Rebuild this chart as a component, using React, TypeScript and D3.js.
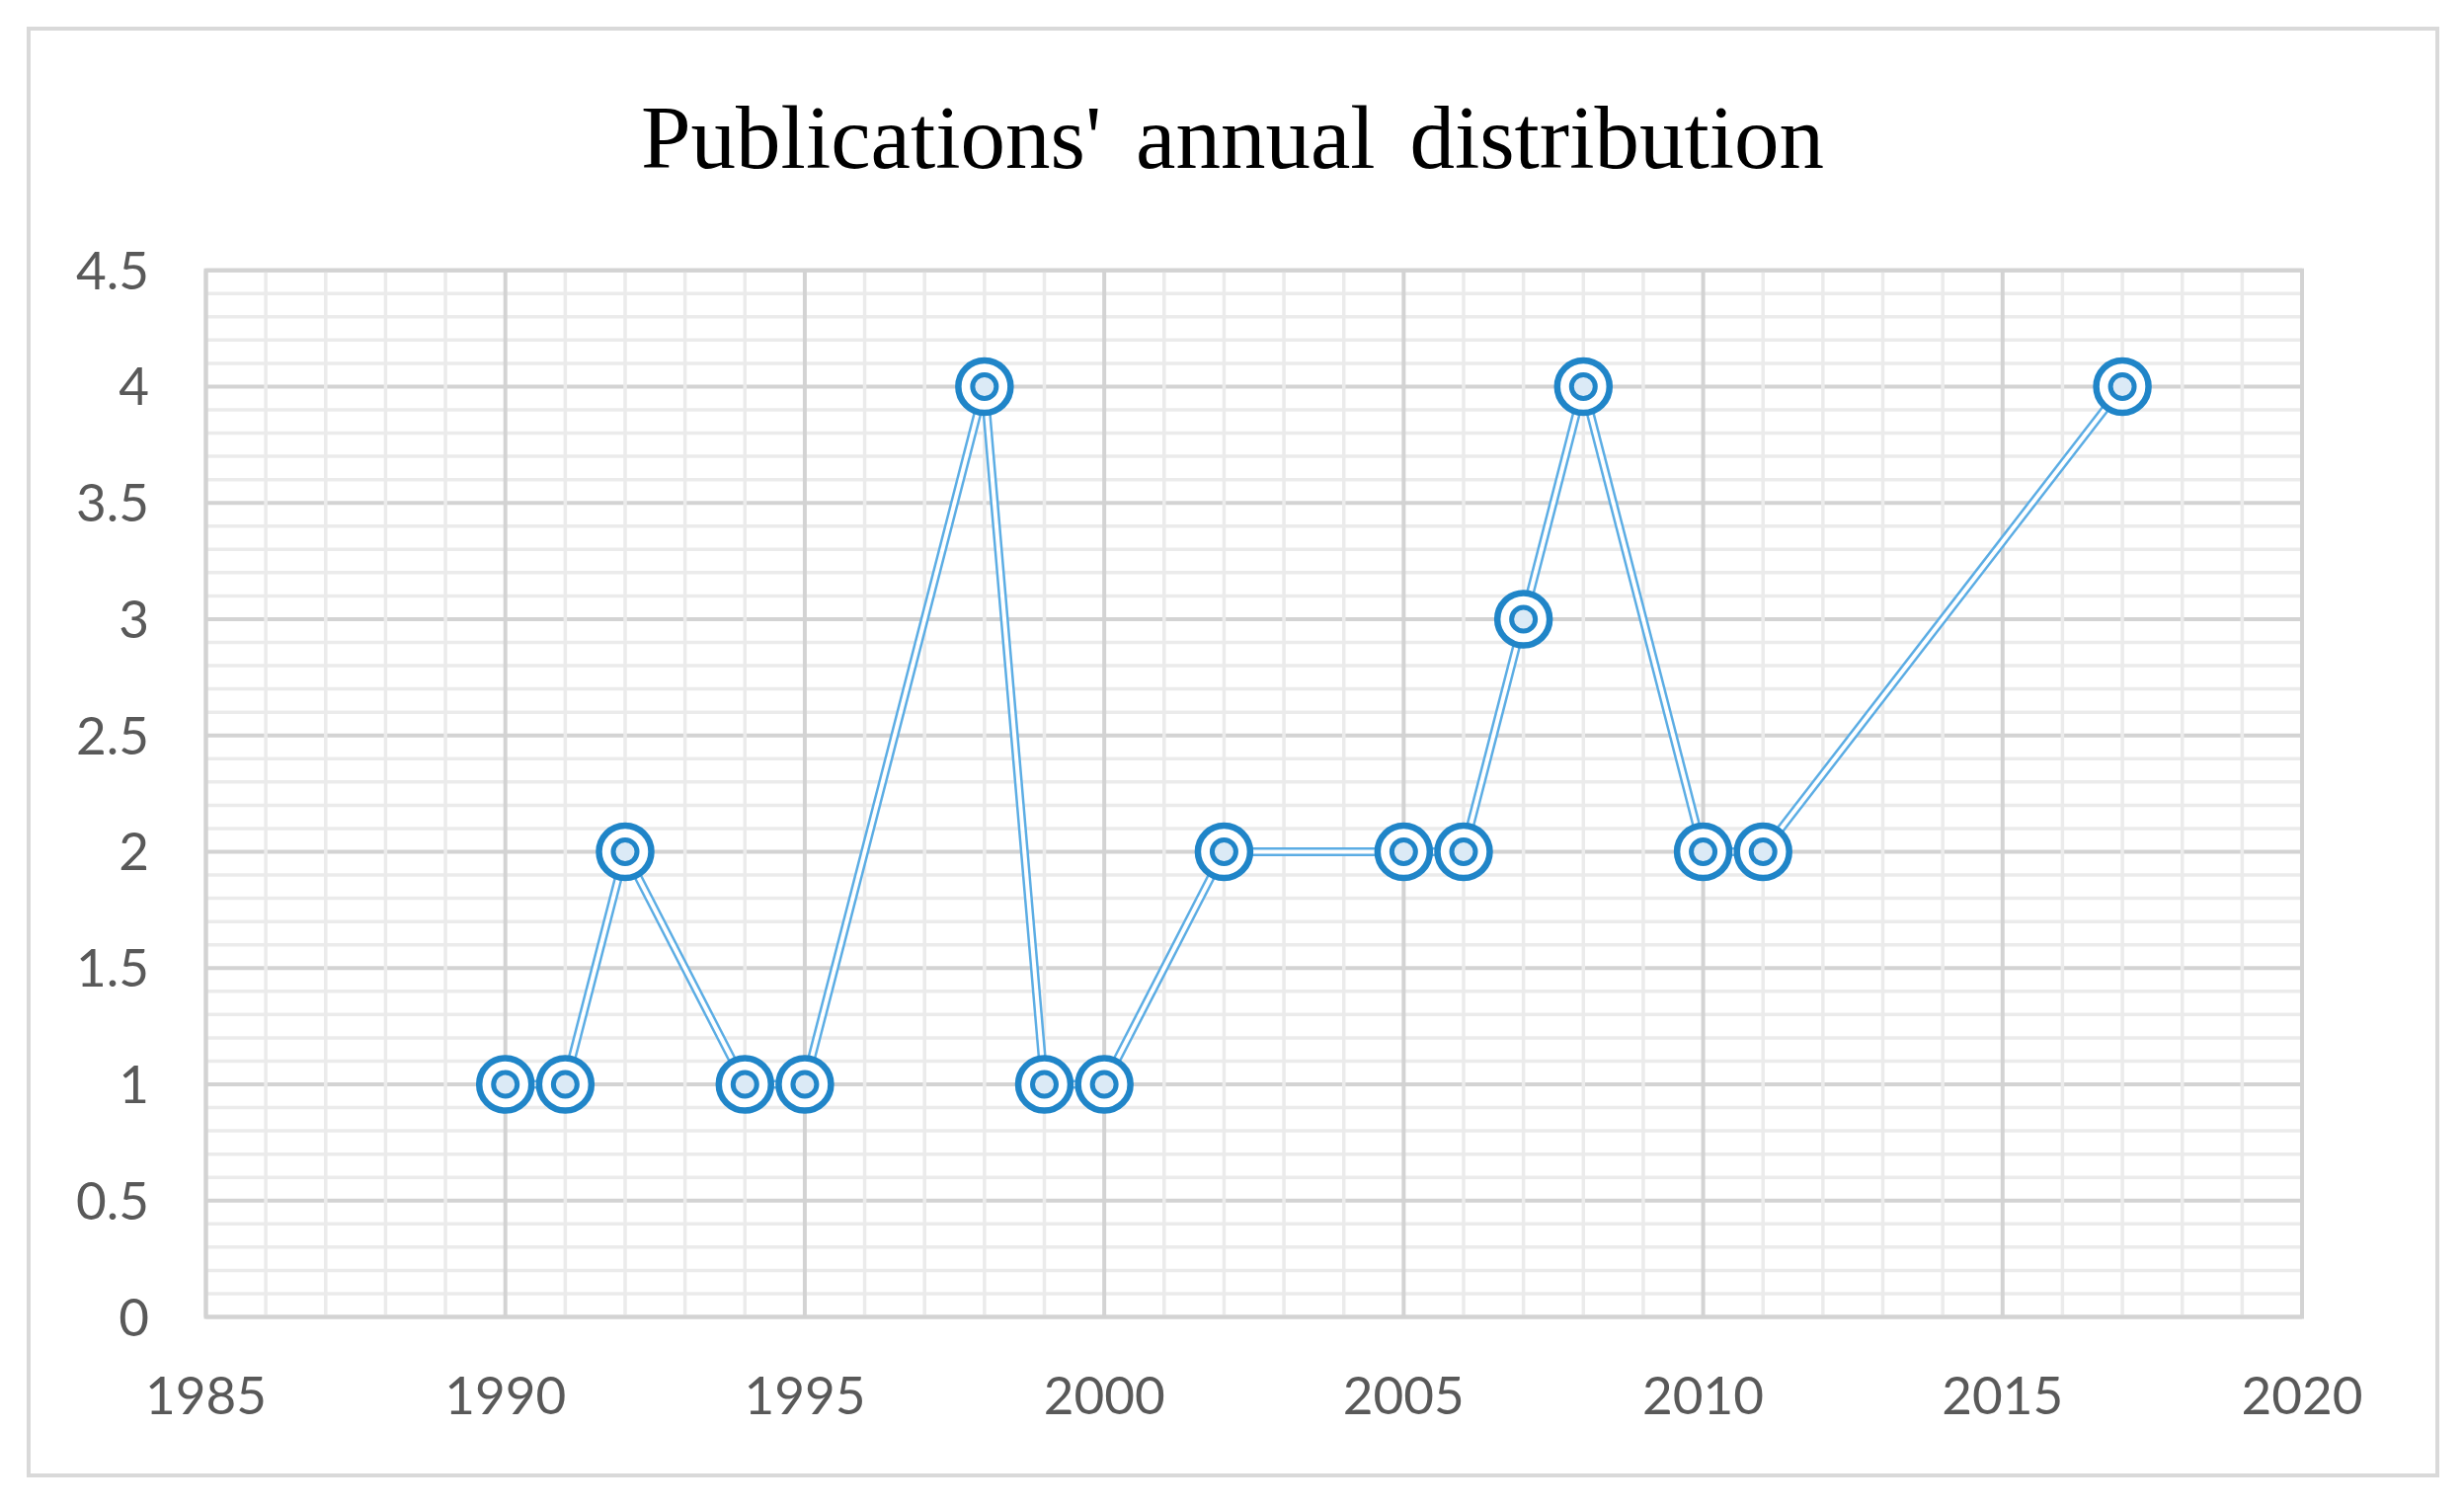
import React from "react";
import * as d3 from "d3";

const years = [1990, 1991, 1992, 1994, 1995, 1998, 1999, 2000, 2002, 2005, 2006, 2007, 2008, 2010, 2011, 2017];
const counts = [1, 1, 2, 1, 1, 4, 1, 1, 2, 2, 2, 3, 4, 2, 2, 4];
const xTicks = [1985, 1990, 1995, 2000, 2005, 2010, 2015, 2020];
const yTicks = [0, 0.5, 1, 1.5, 2, 2.5, 3, 3.5, 4, 4.5];
const title = "Publications' annual distribution";

const W = 2495;
const H = 1528;
const plot = { left: 208.5, right: 2331, top: 273.7, bottom: 1333.5 };

export default function App() {
  const x = d3.scaleLinear().domain([1985, 2020]).range([plot.left, plot.right]);
  const y = d3.scaleLinear().domain([0, 4.5]).range([plot.bottom, plot.top]);

  const xMinor = d3.range(1986, 2020, 1).filter((v) => v % 5 !== 0);
  const yMinor = d3.range(1, 45).map((v) => v / 10).filter((v) => Math.round(v * 10) % 5 !== 0);

  const line = d3
    .line<number>()
    .x((_, i) => x(years[i]))
    .y((d) => y(d));
  const path = line(counts) || "";

  const labelFont = "Lato, 'Open Sans', sans-serif";

  return (
    <svg
      width={W}
      height={H}
      style={{ position: "absolute", left: 0, top: 0, display: "block", background: "#fff" }}
    >
      <rect x={0} y={0} width={W} height={H} fill="#fff" />
      <rect x={29} y={29} width={2439} height={1465} fill="#fff" stroke="#d9d9d9" strokeWidth={4} />

      <text
        x={1248}
        y={170}
        textAnchor="middle"
        fontFamily="'Liberation Serif', 'Times New Roman', serif"
        fontSize={91}
        wordSpacing={12}
        fill="#000"
      >
        {title}
      </text>

      {yTicks.map((t) => (
        <line key={"hM" + t} x1={plot.left} x2={plot.right} y1={y(t)} y2={y(t)} stroke="#d3d3d3" strokeWidth={4} />
      ))}
      {yMinor.map((t) => (
        <line key={"hm" + t} x1={plot.left} x2={plot.right} y1={y(t)} y2={y(t)} stroke="#ebebeb" strokeWidth={3.5} />
      ))}
      {xMinor.map((t) => (
        <line key={"vm" + t} x1={x(t)} x2={x(t)} y1={plot.top} y2={plot.bottom} stroke="#ebebeb" strokeWidth={3.5} />
      ))}
      {xTicks.map((t) => (
        <line key={"vM" + t} x1={x(t)} x2={x(t)} y1={plot.top} y2={plot.bottom} stroke="#d3d3d3" strokeWidth={4} />
      ))}
      <rect
        x={plot.left}
        y={plot.top}
        width={plot.right - plot.left}
        height={plot.bottom - plot.top}
        fill="none"
        stroke="#d3d3d3"
        strokeWidth={4}
      />

      {yTicks.map((t) => (
        <text
          key={"yl" + t}
          x={151}
          y={y(t) + 19}
          textAnchor="end"
          fontFamily={labelFont}
          fontSize={53}
          fill="#595959"
        >
          {String(t)}
        </text>
      ))}
      {xTicks.map((t) => (
        <text
          key={"xl" + t}
          x={x(t)}
          y={1432}
          textAnchor="middle"
          fontFamily={labelFont}
          fontSize={53}
          fill="#595959"
        >
          {String(t)}
        </text>
      ))}

      <path d={path} fill="none" stroke="#5cade4" strokeWidth={9} strokeLinejoin="round" />
      <path d={path} fill="none" stroke="#ffffff" strokeWidth={4} strokeLinejoin="round" />

      {counts.map((c, i) => (
        <g key={"m" + i} transform={`translate(${x(years[i])},${y(c)})`}>
          <circle r={26.5} fill="#fff" stroke="#2085c8" strokeWidth={6.5} />
          <circle r={12} fill="#dbeaf6" stroke="#2085c8" strokeWidth={5} />
        </g>
      ))}
    </svg>
  );
}
